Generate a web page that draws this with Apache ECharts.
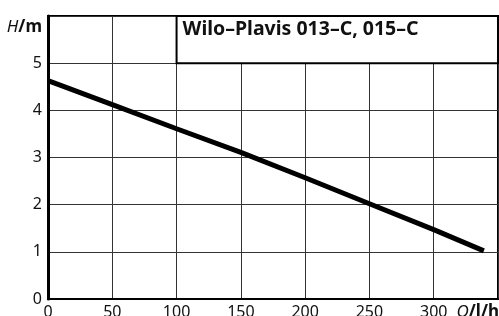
<!DOCTYPE html>
<html><head><meta charset="utf-8">
<script src="https://cdn.jsdelivr.net/npm/echarts@6/dist/echarts.min.js"></script>
<style>html,body{margin:0;padding:0;background:#fff}#c{width:499px;height:316px}</style>
</head><body><div id="c"></div>
<script>
const flowQ = [0, 50, 100, 150, 200, 250, 300, 339];
const headH = [4.63, 4.12, 3.61, 3.11, 2.57, 2.02, 1.47, 1.02];
const xTicks = [0, 50, 100, 150, 200, 250, 300];
const yTicks = [0, 1, 2, 3, 4, 5];
const titleText = 'Wilo–Plavis 013–C, 015–C';
const FONT = 'Noto Sans';

const chart = echarts.init(document.getElementById('c'), null, {renderer: 'canvas'});
const gridLine = {show: true, lineStyle: {color: '#333', width: 1}};
chart.setOption({
  animation: false,
  grid: {left: 48, top: 16, right: 1, bottom: 17, show: true, borderColor: '#000', borderWidth: 2,
         containLabel: false, outerBoundsMode: 'none'},
  xAxis: {
    type: 'value', min: 0, max: 350, interval: 50,
    axisLine: {show: true, lineStyle: {color: '#000', width: 2}},
    axisTick: {show: false},
    splitLine: gridLine,
    axisLabel: {
      margin: 5, color: '#111', fontFamily: FONT, fontSize: 16,
      formatter: v => xTicks.includes(v) ? String(v) : ''
    }
  },
  yAxis: {
    type: 'value', min: 0, max: 6, interval: 1,
    axisLine: {show: true, lineStyle: {color: '#000', width: 3}},
    axisTick: {show: false},
    splitLine: gridLine,
    axisLabel: {
      margin: 6, color: '#111', fontFamily: FONT, fontSize: 16,
      formatter: v => yTicks.includes(v) ? String(v) : ''
    }
  },
  series: [{
    type: 'line', data: flowQ.map((q, i) => [q, headH[i]]),
    symbol: 'none', smooth: false,
    lineStyle: {color: '#000', width: 5}
  }]
});

const p0 = chart.convertToPixel({gridIndex: 0}, [100, 6]);
const p1 = chart.convertToPixel({gridIndex: 0}, [350, 5]);
chart.setOption({
  graphic: [
    {type: 'rect', shape: {x: p0[0], y: p0[1], width: p1[0] - p0[0], height: p1[1] - p0[1]},
     style: {fill: '#fff', stroke: '#000', lineWidth: 2}, z: 100},
    {type: 'text', x: p0[0] + 6, y: p0[1] + 3, z: 101,
     style: {text: titleText, font: 'bold 19.5px "' + FONT + '"', fill: '#111'}},
    {type: 'text', x: 42, y: 27, z: 101,
     style: {text: '{i|H}{b|/m}', align: 'right', verticalAlign: 'middle',
       rich: {i: {font: 'italic 17px "' + FONT + '"', fill: '#111'},
              b: {font: 'bold 17px "' + FONT + '"', fill: '#111'}}}},
    {type: 'text', x: 499, y: 312, z: 101,
     style: {text: '{i|Q}{b|/l/h}', align: 'right', verticalAlign: 'middle',
       rich: {i: {font: 'italic 17px "' + FONT + '"', fill: '#111'},
              b: {font: 'bold 17px "' + FONT + '"', fill: '#111'}}}}
  ]
});
</script></body></html>
